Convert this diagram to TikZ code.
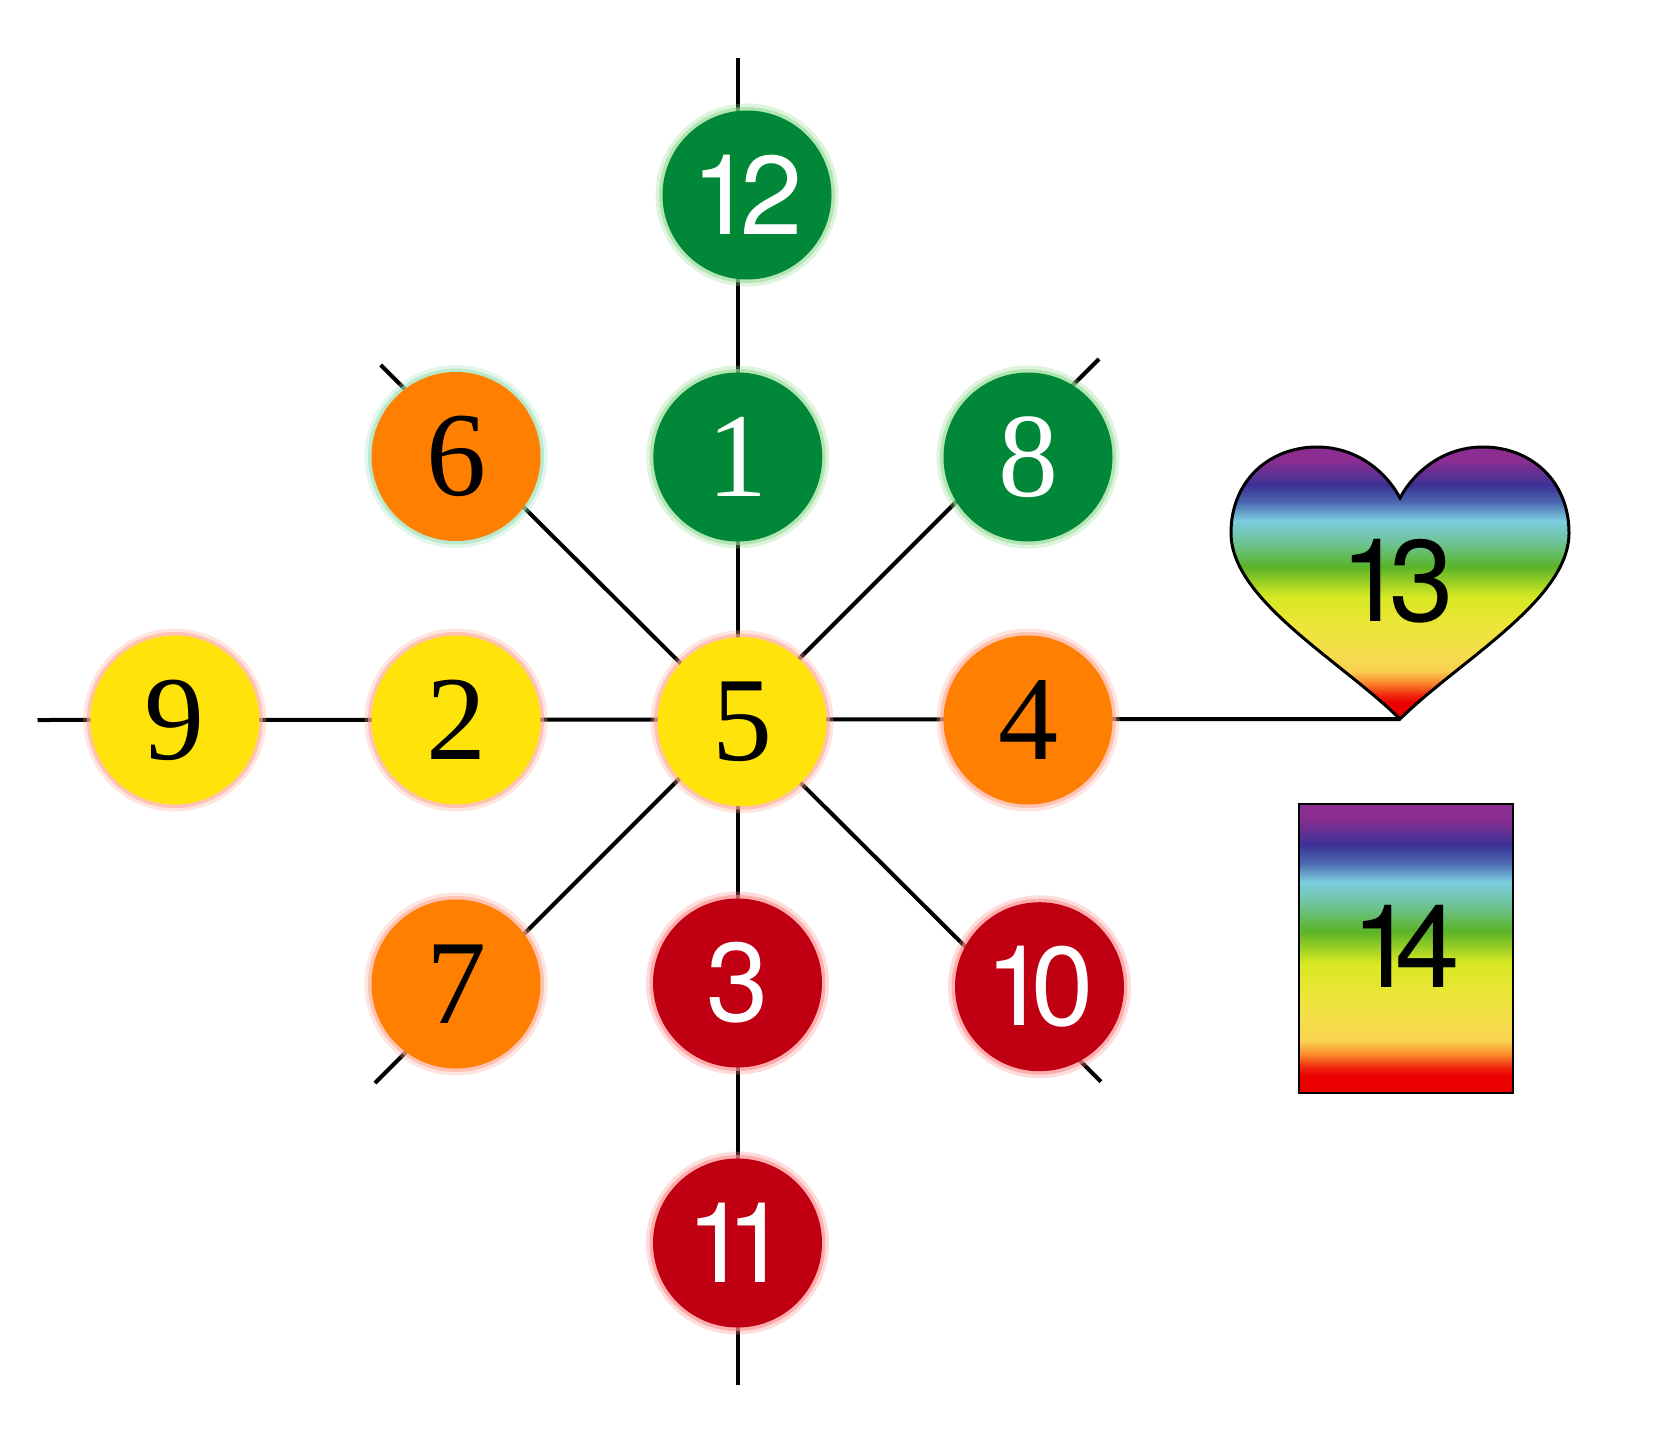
\documentclass[tikz,border=0pt]{standalone}
\usepackage{fontspec}
\setmainfont{Liberation Serif}
\newfontfamily\digsans{TeX Gyre Heros}
\definecolor{cgreen}{RGB}{0,135,55}
\definecolor{corange}{RGB}{255,128,0}
\definecolor{cyellow}{RGB}{255,228,12}
\definecolor{cred}{RGB}{192,0,18}
\definecolor{hgreen}{RGB}{150,220,150}
\definecolor{hmint}{RGB}{160,225,185}
\definecolor{hpink}{RGB}{255,170,150}
\definecolor{hred}{RGB}{255,140,140}
\definecolor{rbA}{RGB}{140,45,145}
\definecolor{rbB}{RGB}{60,50,150}
\definecolor{rbC}{RGB}{75,100,175}
\definecolor{rbD}{RGB}{125,205,225}
\definecolor{rbE}{RGB}{110,195,150}
\definecolor{rbF}{RGB}{90,180,40}
\definecolor{rbG}{RGB}{215,232,35}
\definecolor{rbH}{RGB}{235,230,55}
\definecolor{rbI}{RGB}{245,222,75}
\definecolor{rbJ}{RGB}{250,210,80}
\definecolor{rbK}{RGB}{250,130,40}
\definecolor{rbL}{RGB}{240,40,15}
\definecolor{rbM}{RGB}{235,0,0}
\pgfdeclareverticalshading{rainbow}{100bp}{color(0bp)=(rbM); color(25bp)=(rbM); color(28bp)=(rbM); color(29.5bp)=(rbL); color(31.5bp)=(rbK); color(34bp)=(rbJ); color(37.5bp)=(rbI); color(42.5bp)=(rbH); color(47.5bp)=(rbG); color(53bp)=(rbF); color(57.5bp)=(rbE); color(61.5bp)=(rbD); color(65bp)=(rbC); color(68bp)=(rbB); color(72.5bp)=(rbA); color(75bp)=(rbA); color(100bp)=(rbA)}
\tikzset{
  every node/.style={inner sep=0pt},
  dot/.style={circle, minimum size=84.5pt, fill=#1},
  glow/.style={preaction={draw=#1, draw opacity=0.3, line width=7pt},
               preaction={draw=#1, draw opacity=0.6, line width=3.5pt}},
  serifnum/.style={font=\fontsize{60}{60}\selectfont},
  sansnum/.style={font=\digsans\fontsize{56}{56}\selectfont},
  spoke/.style={line width=2pt, black},
}
\begin{document}
\begin{tikzpicture}[x=0.5pt, y=-0.5pt]
\useasboundingbox (0,0) rectangle (1653,1450);
% free ends of the spokes
\coordinate (vt) at (737.7,58);
\coordinate (vb) at (737.7,1385);
\coordinate (hl) at (37.5,720);
\coordinate (htip) at (1400,719);
\coordinate (da1) at (380.7,365);
\coordinate (da2) at (1101,1081.7);
\coordinate (db1) at (1099,359);
\coordinate (db2) at (375,1083);
\draw[spoke] (vt) -- (vb);
\draw[spoke] (hl) -- (htip);
\draw[spoke] (da1) -- (da2);
\draw[spoke] (db1) -- (db2);
% circles
\node[dot=cgreen, glow=hgreen, sansnum, text=white] (n12) at (747,195) {1\kern-0.12em2};
\node[dot=cgreen, glow=hgreen, serifnum, text=white] (n1) at (737.8,457) {1};
\node[dot=cgreen, glow=hgreen, serifnum, text=white] (n8) at (1028,457) {8};
\node[dot=corange, glow=hmint, serifnum] (n6) at (456,456.5) {6};
\node[dot=cyellow, glow=hpink, serifnum] (n9) at (174.8,720) {9};
\node[dot=cyellow, glow=hpink, serifnum] (n2) at (456,720) {2};
\node[dot=cyellow, glow=hpink, serifnum] (n5) at (742,721.7) {5};
\node[dot=corange, glow=hpink, serifnum] (n4) at (1028,720) {4};
\node[dot=corange, glow=hpink, serifnum] (n7) at (456,984) {7};
\node[dot=cred, glow=hred, sansnum, text=white] (n3) at (737.5,983) {3};
\node[dot=cred, glow=hred, sansnum, text=white] (n10) at (1039.5,986.7) {1\kern-0.14em0};
\node[dot=cred, glow=hred, sansnum, text=white] (n11) at (737.5,1243) {1\kern-0.2em1};
% heart
\path[draw=black, line width=1.5pt, shade, shading=rainbow]
  (htip) .. controls (1340,660) and (1231,600) .. (1231,533)
  .. controls (1231,480) and (1270,447) .. (1317,447)
  .. controls (1355,447) and (1385,470) .. (1400,498)
  .. controls (1415,470) and (1445,447) .. (1483,447)
  .. controls (1530,447) and (1569,480) .. (1569,533)
  .. controls (1569,600) and (1460,660) .. (htip) -- cycle;
\node[font=\digsans\fontsize{58}{58}\selectfont] (n13) at (1397,581) {1\kern-0.13em3};
% rectangle
\node[draw=black, line width=1.3pt, shade, shading=rainbow, minimum width=107pt, minimum height=144.5pt] (r14) at (1406,948.5) {};
\node[font=\digsans\fontsize{58}{58}\selectfont] (n14) at (1405.7,946.5) {1\kern-0.17em4};
\end{tikzpicture}
\end{document}
